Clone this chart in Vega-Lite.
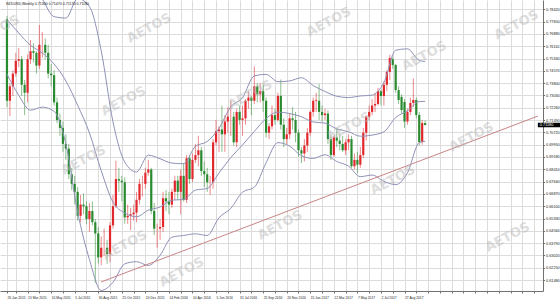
{
  "$schema": "https://vega.github.io/schema/vega-lite/v6.json",
  "width": 543,
  "height": 291,
  "autosize": {"type": "none"},
  "padding": {"left": 0, "top": 0, "right": 17, "bottom": 11},
  "background": "white",
  "config": {"view": {"stroke": null}},
  "title": {"text": "NZDUSD,Weekly  0.71300 0.71470 0.71170 0.71180", "anchor": "start", "frame": "group", "offset": -6, "dx": 6, "fontSize": 3.6, "fontWeight": "normal", "font": "Liberation Sans", "color": "#111"},
  "datasets": {
    "candles": [
      {"d":"2015-01-25","o":0.7780,"h":0.7800,"l":0.7230,"c":0.7270},
      {"d":"2015-02-01","o":0.7270,"h":0.7380,"l":0.7175,"c":0.7360},
      {"d":"2015-02-08","o":0.7360,"h":0.7460,"l":0.7300,"c":0.7440},
      {"d":"2015-02-15","o":0.7440,"h":0.7570,"l":0.7420,"c":0.7520},
      {"d":"2015-02-22","o":0.7520,"h":0.7600,"l":0.7480,"c":0.7530},
      {"d":"2015-03-01","o":0.7530,"h":0.7550,"l":0.7300,"c":0.7370},
      {"d":"2015-03-08","o":0.7370,"h":0.7400,"l":0.7180,"c":0.7320},
      {"d":"2015-03-15","o":0.7320,"h":0.7560,"l":0.7260,"c":0.7530},
      {"d":"2015-03-22","o":0.7530,"h":0.7650,"l":0.7500,"c":0.7580},
      {"d":"2015-03-29","o":0.7580,"h":0.7630,"l":0.7510,"c":0.7570},
      {"d":"2015-04-05","o":0.7570,"h":0.7580,"l":0.7440,"c":0.7490},
      {"d":"2015-04-12","o":0.7490,"h":0.7744,"l":0.7470,"c":0.7620},
      {"d":"2015-04-19","o":0.7620,"h":0.7700,"l":0.7540,"c":0.7620},
      {"d":"2015-04-26","o":0.7620,"h":0.7660,"l":0.7530,"c":0.7570},
      {"d":"2015-05-03","o":0.7570,"h":0.7620,"l":0.7410,"c":0.7440},
      {"d":"2015-05-10","o":0.7440,"h":0.7500,"l":0.7360,"c":0.7430},
      {"d":"2015-05-17","o":0.7430,"h":0.7460,"l":0.7240,"c":0.7260},
      {"d":"2015-05-24","o":0.7260,"h":0.7290,"l":0.7130,"c":0.7150},
      {"d":"2015-05-31","o":0.7150,"h":0.7190,"l":0.7050,"c":0.7100},
      {"d":"2015-06-07","o":0.7100,"h":0.7140,"l":0.6950,"c":0.7000},
      {"d":"2015-06-14","o":0.7000,"h":0.7060,"l":0.6900,"c":0.6970},
      {"d":"2015-06-21","o":0.6970,"h":0.7000,"l":0.6780,"c":0.6810},
      {"d":"2015-06-28","o":0.6810,"h":0.6850,"l":0.6710,"c":0.6750},
      {"d":"2015-07-05","o":0.6750,"h":0.6800,"l":0.6620,"c":0.6700},
      {"d":"2015-07-12","o":0.6700,"h":0.6730,"l":0.6520,"c":0.6550},
      {"d":"2015-07-19","o":0.6550,"h":0.6680,"l":0.6510,"c":0.6620},
      {"d":"2015-07-26","o":0.6620,"h":0.6690,"l":0.6560,"c":0.6610},
      {"d":"2015-08-02","o":0.6610,"h":0.6640,"l":0.6500,"c":0.6530},
      {"d":"2015-08-09","o":0.6530,"h":0.6630,"l":0.6450,"c":0.6580},
      {"d":"2015-08-16","o":0.6580,"h":0.6640,"l":0.6490,"c":0.6510},
      {"d":"2015-08-23","o":0.6510,"h":0.6530,"l":0.6130,"c":0.6440},
      {"d":"2015-08-30","o":0.6440,"h":0.6480,"l":0.6250,"c":0.6290},
      {"d":"2015-09-06","o":0.6290,"h":0.6420,"l":0.6240,"c":0.6350},
      {"d":"2015-09-13","o":0.6350,"h":0.6470,"l":0.6300,"c":0.6350},
      {"d":"2015-09-20","o":0.6350,"h":0.6400,"l":0.6250,"c":0.6310},
      {"d":"2015-09-27","o":0.6310,"h":0.6510,"l":0.6260,"c":0.6490},
      {"d":"2015-10-04","o":0.6490,"h":0.6680,"l":0.6470,"c":0.6610},
      {"d":"2015-10-11","o":0.6610,"h":0.6895,"l":0.6600,"c":0.6780},
      {"d":"2015-10-18","o":0.6780,"h":0.6850,"l":0.6700,"c":0.6770},
      {"d":"2015-10-25","o":0.6770,"h":0.6800,"l":0.6640,"c":0.6760},
      {"d":"2015-11-01","o":0.6760,"h":0.6790,"l":0.6500,"c":0.6540},
      {"d":"2015-11-08","o":0.6540,"h":0.6620,"l":0.6500,"c":0.6550},
      {"d":"2015-11-15","o":0.6550,"h":0.6600,"l":0.6460,"c":0.6560},
      {"d":"2015-11-22","o":0.6560,"h":0.6620,"l":0.6520,"c":0.6570},
      {"d":"2015-11-29","o":0.6570,"h":0.6700,"l":0.6510,"c":0.6650},
      {"d":"2015-12-06","o":0.6650,"h":0.6780,"l":0.6620,"c":0.6750},
      {"d":"2015-12-13","o":0.6750,"h":0.6800,"l":0.6670,"c":0.6750},
      {"d":"2015-12-20","o":0.6750,"h":0.6850,"l":0.6720,"c":0.6820},
      {"d":"2015-12-27","o":0.6820,"h":0.6900,"l":0.6800,"c":0.6840},
      {"d":"2016-01-03","o":0.6840,"h":0.6850,"l":0.6560,"c":0.6580},
      {"d":"2016-01-10","o":0.6580,"h":0.6630,"l":0.6430,"c":0.6470},
      {"d":"2016-01-17","o":0.6470,"h":0.6500,"l":0.6350,"c":0.6470},
      {"d":"2016-01-24","o":0.6470,"h":0.6530,"l":0.6400,"c":0.6480},
      {"d":"2016-01-31","o":0.6480,"h":0.6700,"l":0.6450,"c":0.6660},
      {"d":"2016-02-07","o":0.6660,"h":0.6710,"l":0.6580,"c":0.6640},
      {"d":"2016-02-14","o":0.6640,"h":0.6700,"l":0.6560,"c":0.6620},
      {"d":"2016-02-21","o":0.6620,"h":0.6720,"l":0.6600,"c":0.6700},
      {"d":"2016-02-28","o":0.6700,"h":0.6800,"l":0.6650,"c":0.6770},
      {"d":"2016-03-06","o":0.6770,"h":0.6800,"l":0.6650,"c":0.6700},
      {"d":"2016-03-13","o":0.6700,"h":0.6840,"l":0.6560,"c":0.6800},
      {"d":"2016-03-20","o":0.6800,"h":0.6880,"l":0.6640,"c":0.6650},
      {"d":"2016-03-27","o":0.6650,"h":0.6930,"l":0.6630,"c":0.6910},
      {"d":"2016-04-03","o":0.6910,"h":0.6930,"l":0.6750,"c":0.6780},
      {"d":"2016-04-10","o":0.6780,"h":0.6940,"l":0.6760,"c":0.6900},
      {"d":"2016-04-17","o":0.6900,"h":0.7000,"l":0.6880,"c":0.6930},
      {"d":"2016-04-24","o":0.6930,"h":0.7050,"l":0.6860,"c":0.6960},
      {"d":"2016-05-01","o":0.6960,"h":0.6980,"l":0.6800,"c":0.6830},
      {"d":"2016-05-08","o":0.6830,"h":0.6890,"l":0.6730,"c":0.6810},
      {"d":"2016-05-15","o":0.6810,"h":0.6850,"l":0.6700,"c":0.6760},
      {"d":"2016-05-22","o":0.6760,"h":0.6800,"l":0.6680,"c":0.6760},
      {"d":"2016-05-29","o":0.6760,"h":0.7030,"l":0.6720,"c":0.7010},
      {"d":"2016-06-05","o":0.7010,"h":0.7150,"l":0.6990,"c":0.7080},
      {"d":"2016-06-12","o":0.7080,"h":0.7110,"l":0.6950,"c":0.7090},
      {"d":"2016-06-19","o":0.7090,"h":0.7240,"l":0.6950,"c":0.7060},
      {"d":"2016-06-26","o":0.7060,"h":0.7180,"l":0.6950,"c":0.7140},
      {"d":"2016-07-03","o":0.7140,"h":0.7230,"l":0.7070,"c":0.7170},
      {"d":"2016-07-10","o":0.7170,"h":0.7270,"l":0.7050,"c":0.7170},
      {"d":"2016-07-17","o":0.7170,"h":0.7200,"l":0.6990,"c":0.7010},
      {"d":"2016-07-24","o":0.7010,"h":0.7220,"l":0.6980,"c":0.7200},
      {"d":"2016-07-31","o":0.7200,"h":0.7240,"l":0.7120,"c":0.7150},
      {"d":"2016-08-07","o":0.7150,"h":0.7240,"l":0.7050,"c":0.7160},
      {"d":"2016-08-14","o":0.7160,"h":0.7280,"l":0.7120,"c":0.7270},
      {"d":"2016-08-21","o":0.7270,"h":0.7330,"l":0.7220,"c":0.7290},
      {"d":"2016-08-28","o":0.7290,"h":0.7300,"l":0.7180,"c":0.7270},
      {"d":"2016-09-04","o":0.7270,"h":0.7485,"l":0.7250,"c":0.7360},
      {"d":"2016-09-11","o":0.7360,"h":0.7380,"l":0.7260,"c":0.7310},
      {"d":"2016-09-18","o":0.7310,"h":0.7380,"l":0.7260,"c":0.7330},
      {"d":"2016-09-25","o":0.7330,"h":0.7370,"l":0.7200,"c":0.7270},
      {"d":"2016-10-02","o":0.7270,"h":0.7290,"l":0.7040,"c":0.7070},
      {"d":"2016-10-09","o":0.7070,"h":0.7130,"l":0.7030,"c":0.7110},
      {"d":"2016-10-16","o":0.7110,"h":0.7240,"l":0.7090,"c":0.7180},
      {"d":"2016-10-23","o":0.7180,"h":0.7220,"l":0.7120,"c":0.7150},
      {"d":"2016-10-30","o":0.7150,"h":0.7320,"l":0.7140,"c":0.7300},
      {"d":"2016-11-06","o":0.7300,"h":0.7403,"l":0.7090,"c":0.7120},
      {"d":"2016-11-13","o":0.7120,"h":0.7160,"l":0.6980,"c":0.7030},
      {"d":"2016-11-20","o":0.7030,"h":0.7100,"l":0.7000,"c":0.7060},
      {"d":"2016-11-27","o":0.7060,"h":0.7190,"l":0.7030,"c":0.7160},
      {"d":"2016-12-04","o":0.7160,"h":0.7230,"l":0.7090,"c":0.7150},
      {"d":"2016-12-11","o":0.7150,"h":0.7200,"l":0.7010,"c":0.7070},
      {"d":"2016-12-18","o":0.7070,"h":0.7090,"l":0.6920,"c":0.6960},
      {"d":"2016-12-25","o":0.6960,"h":0.6980,"l":0.6880,"c":0.6940},
      {"d":"2017-01-01","o":0.6940,"h":0.7030,"l":0.6890,"c":0.6990},
      {"d":"2017-01-08","o":0.6990,"h":0.7100,"l":0.6950,"c":0.7070},
      {"d":"2017-01-15","o":0.7070,"h":0.7210,"l":0.7050,"c":0.7200},
      {"d":"2017-01-22","o":0.7200,"h":0.7290,"l":0.7170,"c":0.7270},
      {"d":"2017-01-29","o":0.7270,"h":0.7320,"l":0.7200,"c":0.7275},
      {"d":"2017-02-05","o":0.7270,"h":0.7375,"l":0.7150,"c":0.7200},
      {"d":"2017-02-12","o":0.7200,"h":0.7240,"l":0.7140,"c":0.7180},
      {"d":"2017-02-19","o":0.7180,"h":0.7220,"l":0.7150,"c":0.7190},
      {"d":"2017-02-26","o":0.7190,"h":0.7210,"l":0.7000,"c":0.7030},
      {"d":"2017-03-05","o":0.7030,"h":0.7060,"l":0.6900,"c":0.6930},
      {"d":"2017-03-12","o":0.6930,"h":0.7050,"l":0.6920,"c":0.7040},
      {"d":"2017-03-19","o":0.7040,"h":0.7100,"l":0.6980,"c":0.7020},
      {"d":"2017-03-26","o":0.7020,"h":0.7060,"l":0.6960,"c":0.7000},
      {"d":"2017-04-02","o":0.7000,"h":0.7050,"l":0.6950,"c":0.6960},
      {"d":"2017-04-09","o":0.6960,"h":0.7030,"l":0.6930,"c":0.7010},
      {"d":"2017-04-16","o":0.7010,"h":0.7060,"l":0.6960,"c":0.7030},
      {"d":"2017-04-23","o":0.7030,"h":0.7050,"l":0.6850,"c":0.6860},
      {"d":"2017-04-30","o":0.6860,"h":0.6940,"l":0.6840,"c":0.6900},
      {"d":"2017-05-07","o":0.6900,"h":0.6950,"l":0.6817,"c":0.6870},
      {"d":"2017-05-14","o":0.6870,"h":0.6980,"l":0.6850,"c":0.6930},
      {"d":"2017-05-21","o":0.6930,"h":0.7100,"l":0.6910,"c":0.7070},
      {"d":"2017-05-28","o":0.7070,"h":0.7180,"l":0.7020,"c":0.7170},
      {"d":"2017-06-04","o":0.7170,"h":0.7240,"l":0.7150,"c":0.7200},
      {"d":"2017-06-11","o":0.7200,"h":0.7280,"l":0.7180,"c":0.7240},
      {"d":"2017-06-18","o":0.7240,"h":0.7320,"l":0.7200,"c":0.7250},
      {"d":"2017-06-25","o":0.7250,"h":0.7350,"l":0.7240,"c":0.7330},
      {"d":"2017-07-02","o":0.7330,"h":0.7340,"l":0.7240,"c":0.7300},
      {"d":"2017-07-09","o":0.7300,"h":0.7390,"l":0.7240,"c":0.7370},
      {"d":"2017-07-16","o":0.7370,"h":0.7460,"l":0.7330,"c":0.7450},
      {"d":"2017-07-23","o":0.7450,"h":0.7558,"l":0.7400,"c":0.7537},
      {"d":"2017-07-30","o":0.7530,"h":0.7545,"l":0.7470,"c":0.7494},
      {"d":"2017-08-06","o":0.7494,"h":0.7500,"l":0.7320,"c":0.7337},
      {"d":"2017-08-13","o":0.7337,"h":0.7360,"l":0.7250,"c":0.7275},
      {"d":"2017-08-20","o":0.7294,"h":0.7310,"l":0.7190,"c":0.7212},
      {"d":"2017-08-27","o":0.7262,"h":0.7280,"l":0.7100,"c":0.7140},
      {"d":"2017-09-03","o":0.7140,"h":0.7220,"l":0.7120,"c":0.7200},
      {"d":"2017-09-10","o":0.7200,"h":0.7290,"l":0.7180,"c":0.7256},
      {"d":"2017-09-17","o":0.7256,"h":0.7410,"l":0.7230,"c":0.7275},
      {"d":"2017-09-24","o":0.7275,"h":0.7290,"l":0.7160,"c":0.7181},
      {"d":"2017-10-01","o":0.7181,"h":0.7200,"l":0.6990,"c":0.7012},
      {"d":"2017-10-08","o":0.7012,"h":0.7150,"l":0.6995,"c":0.7131},
      {"d":"2017-10-15","o":0.7130,"h":0.7147,"l":0.7117,"c":0.7118}
    ],
    "bands": [
      {"d":"2015-01-25","up":0.8122,"mid":0.7779,"lo":0.7436},
      {"d":"2015-02-22","up":0.8084,"mid":0.7694,"lo":0.7304},
      {"d":"2015-03-22","up":0.8023,"mid":0.7617,"lo":0.7211},
      {"d":"2015-04-19","up":0.7907,"mid":0.7569,"lo":0.7230},
      {"d":"2015-05-17","up":0.7796,"mid":0.7500,"lo":0.7204},
      {"d":"2015-06-14","up":0.7787,"mid":0.7394,"lo":0.7000},
      {"d":"2015-07-12","up":0.7909,"mid":0.7242,"lo":0.6574},
      {"d":"2015-08-09","up":0.7860,"mid":0.7069,"lo":0.6277},
      {"d":"2015-09-06","up":0.7583,"mid":0.6833,"lo":0.6083},
      {"d":"2015-10-04","up":0.7138,"mid":0.6636,"lo":0.6134},
      {"d":"2015-11-01","up":0.6886,"mid":0.6568,"lo":0.6249},
      {"d":"2015-11-29","up":0.6824,"mid":0.6544,"lo":0.6263},
      {"d":"2015-12-27","up":0.6930,"mid":0.6585,"lo":0.6239},
      {"d":"2016-01-24","up":0.6907,"mid":0.6605,"lo":0.6303},
      {"d":"2016-02-21","up":0.6880,"mid":0.6648,"lo":0.6416},
      {"d":"2016-03-20","up":0.6876,"mid":0.6652,"lo":0.6427},
      {"d":"2016-04-17","up":0.6985,"mid":0.6711,"lo":0.6437},
      {"d":"2016-05-15","up":0.7015,"mid":0.6721,"lo":0.6427},
      {"d":"2016-06-12","up":0.7098,"mid":0.6818,"lo":0.6538},
      {"d":"2016-07-10","up":0.7232,"mid":0.6914,"lo":0.6596},
      {"d":"2016-08-07","up":0.7290,"mid":0.6994,"lo":0.6698},
      {"d":"2016-09-04","up":0.7426,"mid":0.7078,"lo":0.6729},
      {"d":"2016-10-02","up":0.7435,"mid":0.7159,"lo":0.6882},
      {"d":"2016-10-30","up":0.7389,"mid":0.7199,"lo":0.7008},
      {"d":"2016-11-27","up":0.7394,"mid":0.7190,"lo":0.6986},
      {"d":"2016-12-25","up":0.7414,"mid":0.7170,"lo":0.6926},
      {"d":"2017-01-22","up":0.7365,"mid":0.7137,"lo":0.6909},
      {"d":"2017-02-19","up":0.7328,"mid":0.7130,"lo":0.6932},
      {"d":"2017-03-19","up":0.7298,"mid":0.7094,"lo":0.6890},
      {"d":"2017-04-16","up":0.7290,"mid":0.7076,"lo":0.6861},
      {"d":"2017-05-14","up":0.7300,"mid":0.7048,"lo":0.6795},
      {"d":"2017-06-11","up":0.7305,"mid":0.7055,"lo":0.6805},
      {"d":"2017-07-09","up":0.7385,"mid":0.7076,"lo":0.6766},
      {"d":"2017-08-06","up":0.7586,"mid":0.7165,"lo":0.6745},
      {"d":"2017-09-03","up":0.7595,"mid":0.7207,"lo":0.6819},
      {"d":"2017-10-01","up":0.7522,"mid":0.7265,"lo":0.7008},
      {"d":"2017-10-15","up":0.7516,"mid":0.7266,"lo":0.7016}
    ],
    "trend": [
      {"d":"2015-09-06","p":0.6136},
      {"d":"2018-07-10","p":0.7174}
    ],
    "last": [
      {"d":"2018-07-10","d2":"2019-03-01","p":0.7118,"p1":0.7132,"p2":0.7104,"t":"0.71180"}
    ],
    "marks": [
      {"d":"2015-01-02","p":0.7713,"t":"AETOS"},
      {"d":"2015-12-29","p":0.7725,"t":"AETOS"},
      {"d":"2017-02-28","p":0.7763,"t":"AETOS"},
      {"d":"2018-05-20","p":0.7744,"t":"AETOS"},
      {"d":"2017-10-13","p":0.7550,"t":"AETOS"},
      {"d":"2015-10-29","p":0.7268,"t":"AETOS"},
      {"d":"2016-08-25","p":0.7306,"t":"AETOS"},
      {"d":"2017-04-16","p":0.7106,"t":"AETOS"},
      {"d":"2018-02-02","p":0.7043,"t":"AETOS"},
      {"d":"2015-07-26","p":0.6899,"t":"AETOS"},
      {"d":"2017-07-30","p":0.6774,"t":"AETOS"},
      {"d":"2016-11-04","p":0.6492,"t":"AETOS"},
      {"d":"2015-11-01","p":0.6367,"t":"AETOS"},
      {"d":"2018-04-29","p":0.6417,"t":"AETOS"},
      {"d":"2016-03-15","p":0.6198,"t":"AETOS"}
    ]
  },
  "encoding": {
    "x": {
      "field": "d", "type": "temporal", "title": null,
      "scale": {"type": "utc", "domain": [1421740800000, 1531209600000]},
      "axis": {
        "values": [1422144000000,1423958400000,1426377600000,1428796800000,1431216000000,1433635200000,1436054400000,1438473600000,1440892800000,1443312000000,1445731200000,1448150400000,1450569600000,1452988800000,1455408000000,1457827200000,1460246400000,1462665600000,1465084800000,1467504000000,1469923200000,1472342400000,1474761600000,1477180800000,1479600000000,1482019200000,1484438400000,1486857600000,1489276800000,1491696000000,1494115200000,1496534400000,1498953600000,1501372800000,1503792000000,1506211200000,1508630400000,1511049600000,1513468800000,1515888000000,1518307200000,1520726400000,1523145600000,1525564800000,1527984000000,1530403200000],
        "tickCount": 500,
        "labelExpr": "toNumber(datum.value) == 1422144000000 ? '26 Jan 2015' : ((toNumber(datum.value) <= 1503792000000 && round((toNumber(datum.value) - 1426377600000) / 604800000) % 8 == 0) ? utcFormat(datum.value, '%-d %b %Y') : '')",
        "title": null,
        "grid": true, "gridColor": "#dcdcdc", "gridWidth": 1,
        "domain": true, "domainColor": "#707070",
        "ticks": true, "tickColor": "#707070", "tickSize": 2,
        "labelFontSize": 3.3, "labelFont": "Liberation Sans", "labelColor": "#222",
        "labelAlign": "left", "labelBaseline": "top", "labelPadding": 2,
        "labelFlush": false, "labelOverlap": false, "labelBound": false
      }
    }
  },
  "layer": [
    {
      "data": {"name": "candles"},
      "mark": {"type": "rule", "strokeWidth": 1, "opacity": 0.55},
      "encoding": {
        "y": {
          "field": "l", "type": "quantitative", "title": null,
          "scale": {"domain": [0.60794, 0.79005], "zero": false, "nice": false},
          "axis": {
            "orient": "right", "title": null,
            "values": [0.7842,0.7765,0.7688,0.7611,0.7534,0.7457,0.7380,0.7303,0.7226,0.7149,0.7072,0.6995,0.6918,0.6841,0.6764,0.6687,0.6610,0.6533,0.6456,0.6379,0.6302,0.6225,0.6148],
            "tickCount": 500,
            "format": ".5f",
            "grid": true, "gridColor": "#dcdcdc", "gridWidth": 1,
            "domain": true, "domainColor": "#707070",
            "ticks": true, "tickColor": "#707070", "tickSize": 1.5,
            "labelFontSize": 3.8, "labelFont": "Liberation Sans", "labelColor": "#222",
            "labelPadding": 1, "labelOverlap": false, "labelBound": false
          }
        },
        "y2": {"field": "h"},
        "color": {"condition": {"test": "datum.c >= datum.o", "value": "#e0282d"}, "value": "#2a8a30"}
      }
    },
    {
      "data": {"name": "candles"},
      "mark": {"type": "bar", "width": 2.2},
      "encoding": {
        "y": {"field": "o", "type": "quantitative", "title": null},
        "y2": {"field": "c"},
        "color": {"condition": {"test": "datum.c >= datum.o", "value": "#e0282d"}, "value": "#2a8a30"}
      }
    },
    {
      "data": {"name": "bands"},
      "mark": {"type": "line", "interpolate": "monotone", "strokeWidth": 1, "color": "#8e91b8", "clip": true},
      "encoding": {"y": {"field": "up", "type": "quantitative", "title": null}}
    },
    {
      "data": {"name": "bands"},
      "mark": {"type": "line", "interpolate": "monotone", "strokeWidth": 1, "color": "#8e91b8", "clip": true},
      "encoding": {"y": {"field": "mid", "type": "quantitative", "title": null}}
    },
    {
      "data": {"name": "bands"},
      "mark": {"type": "line", "interpolate": "monotone", "strokeWidth": 1, "color": "#8e91b8", "clip": true},
      "encoding": {"y": {"field": "lo", "type": "quantitative", "title": null}}
    },
    {
      "data": {"name": "trend"},
      "mark": {"type": "line", "strokeWidth": 1, "color": "#c98484", "clip": true},
      "encoding": {"y": {"field": "p", "type": "quantitative", "title": null}}
    },
    {
      "data": {"name": "marks"},
      "mark": {"type": "text", "angle": -28, "fontSize": 13, "fontWeight": "bold", "font": "DejaVu Sans", "color": "#b8b8b8", "opacity": 0.45, "align": "center", "baseline": "middle"},
      "encoding": {
        "y": {"field": "p", "type": "quantitative", "title": null},
        "text": {"field": "t"}
      }
    },
    {
      "data": {"name": "last"},
      "mark": {"type": "rect", "color": "#000"},
      "encoding": {
        "x2": {"field": "d2"},
        "y": {"field": "p1", "type": "quantitative", "title": null},
        "y2": {"field": "p2"}
      }
    },
    {
      "data": {"name": "last"},
      "mark": {"type": "text", "align": "left", "baseline": "middle", "dx": 2, "fontSize": 3.8, "font": "Liberation Sans", "color": "white"},
      "encoding": {
        "y": {"field": "p", "type": "quantitative", "title": null},
        "text": {"field": "t"}
      }
    }
  ]
}
